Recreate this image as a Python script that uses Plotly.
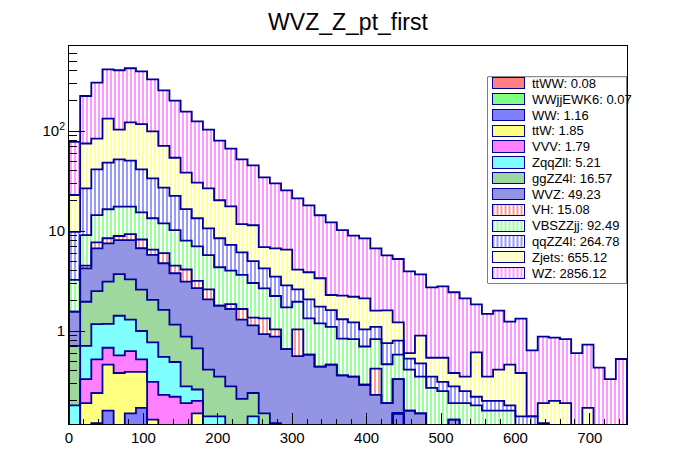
import numpy as np
import plotly.graph_objects as go

# 50 bins of 15 GeV, 0 - 750
bin_edges = list(range(0, 751, 15))
bin_centers = [e + 7.5 for e in bin_edges[:-1]]

# stack order, bottom -> top (same order as the legend)
names = ["ttWW", "WWjjEWK6", "WW", "ttW", "VVV", "ZqqZll", "ggZZ4l",
         "WVZ", "VH", "VBSZZjj", "qqZZ4l", "Zjets", "WZ"]
yields = ["0.08", "0.07", "1.16", "1.85", "1.79", "5.21", "16.57",
          "49.23", "15.08", "92.49", "264.78", "655.12", "2856.12"]

ttWW = [0, 0, 0, 0.01, 0.01, 0.02, 0.01, 0.01, 0.01, 0.01] + [0] * 40
WWjjEWK6 = [0] * 10 + [0.01, 0.01, 0.01, 0.01, 0.01, 0.01, 0.01] + [0] * 33
WW = [0, 0, 0.12, 0.15, 0.10, 0.13, 0.16] + [0] * 22 + [0.15] + [0] * 20
ttW = [0, 0.19, 0.12, 0.30, 0.27, 0.24, 0.22, 0.12, 0, 0, 0, 0.14] + [0] * 38
VVV = [0, 0.14, 0.28, 0.22, 0.19, 0.24, 0.13, 0.18, 0.22, 0.21, 0.18, 0.05] + [0] * 38
ZqqZll = [0.18, 0.38, 0.65, 0.50, 0.85, 0.67, 0.48, 0.46, 0.32, 0.27, 0.09, 0.06,
          0.13, 0.13, 0, 0, 0.13] + [0] * 33
ggZZ4l = [0.53, 1.25, 1.34, 1.93, 2.28, 1.99, 1.59, 1.28, 1.08, 0.67, 0.60, 0.41,
          0.27, 0.21, 0.27, 0.20, 0.10, 0.15, 0.12] + [0] * 31
WVZ = [0.85, 2.27, 4.19, 4.40, 4.41, 4.82, 4.13, 3.71, 3.13, 2.62, 2.24, 2.01,
       1.66, 1.44, 1.38, 1.09, 0.90, 0.78, 0.76, 0.66, 0.56, 0.58, 0.44, 0.46,
       0.36, 0.35, 0.29, 0.23, 0.19, 0.18, 0.16, 0.15, 0, 0, 0.13] + [0] * 15
VH = [0, 0.27, 1.0, 0.95, 0.8, 1.2, 1.5, 0.75, 1.25, 0.73, 1.0, 0.49,
      0.54, 0, 0.2, 0.36, 0.22, 0.41, 0.16, 0, 0.48, 0, 0, 0,
      0, 0, 0, 0.19] + [0] * 22
VBSZZjj = [1.68, 4.6, 6.7, 8.05, 8.6, 8.2, 7.1, 6.9, 5.9, 5.7, 3.9, 3.84,
           3.14, 2.55, 2.15, 1.98, 1.66, 1.33, 1.2, 1.06, 0.92, 0.76, 0.75, 0.64,
           0.48, 0.48, 0.41, 0.41, 0.275, 0.25, 0.25, 0.2, 0.27, 0.25, 0.06, 0.19,
           0.18, 0.16, 0.16, 0.16, 0.10] + [0] * 9
qqZZ4l = [6.56, 17.6, 27.0, 31.7, 34.5, 33.0, 26.1, 20.2, 15.2, 12.2, 8.5, 6.4,
          4.85, 4.12, 3.24, 2.47, 1.98, 1.56, 1.26, 1.14, 0.65, 0.73, 0.56, 0.52,
          0.47, 0.39, 0.34, 0.27, 0.29, 0.22, 0.12, 0.125, 0.08, 0.06, 0.09, 0.06,
          0.04, 0.04, 0.04, 0.02, 0.04, 0.14, 0.12] + [0] * 7
Zjets = [13.1, 48.3, 42.6, 84.8, 51.0, 71.5, 75.6, 65.4, 43.9, 31.6, 21.8, 17.0,
         16.1, 11.85, 10.4, 5.6, 6.42, 2.67, 3.2, 3.64, 1.49, 1.8, 1.62, 0.67,
         0.95, 0.98, 1.08, 0.5, 0.85, 0.42, 0.07, 0.425, 0.19, 0.23, 0.1, 0.1,
         0.39, 0.15, 0.21, 0.28, 0.24, 0, 0.07, 0.2, 0.19, 0, 0.17, 0, 0, 0]
WZ = [55.1, 149, 220, 281, 302, 302, 278, 230, 184, 147, 118, 94.6,
      76.3, 59.7, 48.9, 40.3, 34.0, 27.5, 23.3, 19.0, 17.1, 14.2, 11.0, 9.9,
      7.94, 6.8, 6.33, 5.11, 4.11, 4.03, 3.35, 2.79, 2.19, 2.26, 2.06, 1.77,
      1.24, 1.13, 1.19, 0.78, 0.95, 0.5, 0.69, 0.66, 0.64, 0.6, 0.56, 0.43,
      0.33, 0.525]

series = [ttWW, WWjjEWK6, WW, ttW, VVV, ZqqZll, ggZZ4l, WVZ, VH, VBSZZjj, qqZZ4l, Zjets, WZ]
# checkerboard fills are drawn as their mean tint, hatched ones as vertical lines
colors = ["#ff8080", "#80ff80", "#8080ff", "#ffff80", "#ff80ff", "#80ffff", "#9ed89e",
          "#9494e4", "#ff0000", "#00ff00", "#0000ff", "#ffff00", "#ff00ff"]
hatched = [False] * 8 + [True] * 5

outline = "#000099"


def fill_marker(c, vert, line_w=0):
    m = dict(line=dict(width=line_w, color=outline))
    if vert:
        m["color"] = "white"
        m["pattern"] = dict(shape="|", fgcolor=c, bgcolor="white", size=4, solidity=0.4)
    else:
        m["color"] = c
    return m


fig = go.Figure()

# filled stack
for name, vals, c, vert in zip(names, series, colors, hatched):
    fig.add_trace(go.Bar(x=bin_centers, y=vals, width=15, name=name,
                         marker=fill_marker(c, vert), showlegend=False, hoverinfo="skip"))

# histogram outlines (cumulative steps)
cum = np.cumsum(np.array(series, dtype=float), axis=0)
for k in range(len(names)):
    top = np.where(cum[k] > 0, cum[k], 1e-3)
    xs = [0] + bin_edges[:-1] + [750, 750]
    ys = [1e-3] + list(top) + [top[-1], 1e-3]
    fig.add_trace(go.Scatter(x=xs, y=ys, mode="lines", line_shape="hv",
                             line=dict(color=outline, width=1.8),
                             showlegend=False, hoverinfo="skip"))

# ROOT-like legend box drawn on its own small axes (units = pixels)
row0, row_h = 6.8, 15.83
for i, (name, yv, c, vert) in enumerate(zip(names, yields, colors, hatched)):
    yc = row0 + i * row_h
    fig.add_trace(go.Bar(x=[31.6], y=[yc], orientation="h", width=11.3,
                         marker=fill_marker(c, vert, 1), xaxis="x2", yaxis="y2",
                         showlegend=False, hoverinfo="skip"))
    fig.add_annotation(x=37.3, y=yc, xref="x2", yref="y2", text=f"{name}: {yv}",
                       showarrow=False, xanchor="left", yanchor="middle",
                       font=dict(size=13))
fig.add_shape(type="rect", xref="x2", yref="y2", x0=-5.2, x1=134.3, y0=0, y1=207,
              fillcolor="white", line=dict(color="black", width=1), layer="below")

minor_y = [m * 10 ** p for p in (-1, 0, 1, 2) for m in range(2, 10) if m * 10 ** p < 710]

# the page body adds 8px around the figure, margins account for that
fig.update_layout(
    width=680, height=456,
    barmode="stack", bargap=0,
    plot_bgcolor="white", paper_bgcolor="white",
    margin=dict(l=61, r=61, t=38, b=40),
    font=dict(family="Liberation Sans, Arial, sans-serif", color="black", size=15),
    title=dict(text="WVZ_Z_pt_first", x=0.5, xanchor="center", y=0.969, yanchor="middle",
               font=dict(size=23)),
    showlegend=False,
    xaxis=dict(range=[0, 750], showline=True, mirror=True,
               linecolor="black", linewidth=1, ticks="inside", ticklen=11, tickcolor="black",
               tickvals=list(range(0, 701, 100)),
               minor=dict(ticks="inside", ticklen=5, tickcolor="black", dtick=20),
               showgrid=False, zeroline=False),
    yaxis=dict(type="log", range=[-0.93, 2.85], showline=True,
               mirror=True, linecolor="black", linewidth=1, ticks="inside", ticklen=16,
               tickcolor="black", tickvals=[1, 10, 100], ticktext=["1", "10", "10<sup>2</sup>"],
               minor=dict(ticks="inside", ticklen=8, tickcolor="black", tickvals=minor_y),
               showgrid=False, zeroline=False),
    xaxis2=dict(domain=[0.750, 1.0], range=[-5.2, 134.3], anchor="y2", visible=False,
                fixedrange=True),
    yaxis2=dict(domain=[0.3717, 0.919], range=[207, 0], anchor="x2", visible=False,
                fixedrange=True),
)

fig.write_html("out.html")
